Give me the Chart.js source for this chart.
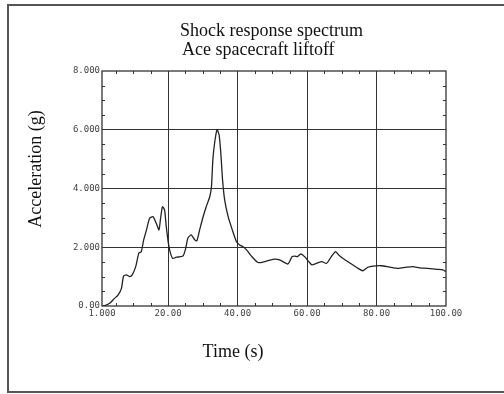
<!DOCTYPE html>
<html>
<head>
<meta charset="utf-8">
<script src="https://cdn.jsdelivr.net/npm/chart.js@4"></script>
<style>
  body { margin: 0; background: #fff; }
  canvas { display: block; }
</style>
</head>
<body>
<canvas id="graficoChoque" width="504" height="394"></canvas>
<script>
const tiempos = [1, 2, 3.2, 4.6, 5.6, 6.6, 7.2, 8.0, 9.0, 9.7,
  10.7, 11.6, 12.3, 13.0, 13.8, 14.7, 15.7, 16.6, 17.4, 17.8,
  18.4, 19.0, 19.5, 20.1, 20.7, 21.4, 22.4, 24.3, 25.1, 25.7,
  26.7, 27.7, 28.3, 29.1, 30.1, 31.0, 32.0, 32.5, 32.9, 33.4,
  34.1, 34.7, 35.2, 35.7, 36.3, 37.3, 38.5, 39.7, 40.6, 41.6,
  42.6, 44.0, 45.9, 47.8, 50.2, 52.1, 54.5, 55.7, 56.5, 57.2,
  58.2, 59.3, 60.5, 61.4, 62.7, 64.3, 65.6, 67.0, 68.2, 69.1,
  70.6, 72.8, 74.7, 76.1, 77.5, 79.0, 81.4, 83.8, 86.2, 88.6,
  90.5, 92.4, 94.8, 97.2, 99.1, 100];
const aceleraciones = [0, 0.02, 0.09, 0.26, 0.37, 0.6, 1.02, 1.06, 1.0, 1.06,
  1.34, 1.8, 1.85, 2.25, 2.59, 2.99, 3.04, 2.82, 2.59, 2.93,
  3.38, 3.27, 2.7, 2.14, 1.8, 1.62, 1.66, 1.70, 1.97, 2.31,
  2.42, 2.25, 2.22, 2.59, 3.04, 3.38, 3.72, 4.06, 4.97, 5.54,
  6.0, 5.83, 5.2, 4.29, 3.61, 3.04, 2.59, 2.19, 2.08, 2.02,
  1.91, 1.70, 1.48, 1.51, 1.59, 1.57, 1.43, 1.68, 1.70, 1.68,
  1.77, 1.68, 1.51, 1.40, 1.45, 1.51, 1.45, 1.68, 1.85, 1.74,
  1.60, 1.43, 1.28, 1.20, 1.32, 1.36, 1.37, 1.32, 1.28, 1.32,
  1.34, 1.30, 1.28, 1.25, 1.23, 1.17];

const ticksX = [1, 20, 40, 60, 80, 100];
const etiquetasX = ["1.000", "20.00", "40.00", "60.00", "80.00", "100.00"];
const ticksY = [0, 2, 4, 6, 8];
const etiquetasY = ["0.00", "2.000", "4.000", "6.000", "8.000"];

const titulo = ["Shock response spectrum", "Ace spacecraft liftoff"];
const tituloX = "Time (s)";
const tituloY = "Acceleration (g)";

const serif = '"Liberation Serif", "Times New Roman", serif';
const mono = '"DejaVu Sans Mono", monospace';

// marco, rayitas menores y textos
const decorado = {
  id: "decorado",
  afterDatasetsDraw(chart) {
    const { ctx, chartArea: a, scales } = chart;
    ctx.save();
    ctx.strokeStyle = "#333";
    ctx.lineWidth = 1;
    // rayitas menores hacia adentro
    ctx.beginPath();
    for (let t = 5; t < 100; t += 5) {
      if (t % 20 === 0) continue;
      const x = Math.round(scales.x.getPixelForValue(t)) + 0.5;
      ctx.moveTo(x, a.bottom); ctx.lineTo(x, a.bottom - 3);
      ctx.moveTo(x, a.top); ctx.lineTo(x, a.top + 3);
    }
    for (let v = 0.5; v < 8; v += 0.5) {
      if (v % 2 === 0) continue;
      const y = Math.round(scales.y.getPixelForValue(v)) + 0.5;
      ctx.moveTo(a.left, y); ctx.lineTo(a.left + 3, y);
      ctx.moveTo(a.right, y); ctx.lineTo(a.right - 3, y);
    }
    ctx.stroke();
    ctx.lineWidth = 1.3;
    ctx.strokeRect(a.left, a.top, a.right - a.left, a.bottom - a.top);
    ctx.restore();
  },
  afterDraw(chart) {
    const { ctx } = chart;
    ctx.save();
    // borde de la hoja
    ctx.strokeStyle = "#555";
    ctx.lineWidth = 2;
    ctx.beginPath();
    ctx.moveTo(504, 5); ctx.lineTo(8, 5); ctx.lineTo(8, 392); ctx.lineTo(504, 392);
    ctx.stroke();

    ctx.fillStyle = "#111";
    ctx.font = "18px " + serif;
    ctx.textBaseline = "alphabetic";
    ctx.textAlign = "left";
    ctx.fillText(titulo[0], 180, 36);
    ctx.fillText(titulo[1], 182, 55);

    ctx.textAlign = "center";
    ctx.fillText(tituloX, 233, 357);

    ctx.translate(41, 169);
    ctx.rotate(-Math.PI / 2);
    ctx.textBaseline = "alphabetic";
    ctx.fillText(tituloY, 0, 0);
    ctx.restore();
  }
};

const ctx = document.getElementById("graficoChoque").getContext("2d");
new Chart(ctx, {
  type: "line",
  data: {
    datasets: [{
      data: tiempos.map((t, i) => ({ x: t, y: aceleraciones[i] })),
      borderColor: "#222",
      borderWidth: 1.3,
      pointRadius: 0,
      tension: 0.2,
      fill: false
    }]
  },
  options: {
    responsive: false,
    animation: false,
    layout: { padding: { top: 71, right: 58, bottom: 0, left: 0 } },
    plugins: { legend: { display: false }, tooltip: { enabled: false } },
    scales: {
      x: {
        type: "linear",
        min: 1,
        max: 100,
        afterBuildTicks: s => { s.ticks = ticksX.map(v => ({ value: v })); },
        afterFit: s => { s.height = 88; },
        ticks: {
          autoSkip: false,
          maxRotation: 0,
          padding: 2,
          color: "#444",
          font: { family: mono, size: 9 },
          callback: v => etiquetasX[ticksX.indexOf(v)]
        },
        grid: {
          drawTicks: false,
          color: c => (c.tick && (c.tick.value === 1 || c.tick.value === 100)) ? "rgba(0,0,0,0)" : "#333"
        },
        border: { display: false }
      },
      y: {
        min: 0,
        max: 8,
        afterBuildTicks: s => { s.ticks = ticksY.map(v => ({ value: v })); },
        afterFit: s => { s.width = 102; },
        ticks: {
          padding: 2,
          color: "#444",
          font: { family: mono, size: 9 },
          callback: v => etiquetasY[ticksY.indexOf(v)]
        },
        grid: {
          drawTicks: false,
          color: c => (c.tick && (c.tick.value === 0 || c.tick.value === 8)) ? "rgba(0,0,0,0)" : "#333"
        },
        border: { display: false }
      }
    }
  },
  plugins: [decorado]
});
</script>
</body>
</html>
